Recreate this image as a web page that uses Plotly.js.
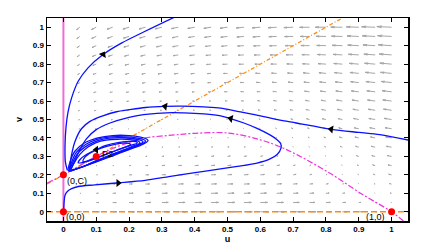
<!DOCTYPE html>
<html><head><meta charset="utf-8">
<script src="https://cdn.plot.ly/plotly-3.0.1.min.js"></script>
<style>html,body{margin:0;padding:0;background:#fff}#chart{width:431px;height:247px}</style>
</head><body><div id="chart"></div>
<script>
// ---- axes ----
const X_TICKS = [0,0.1,0.2,0.3,0.4,0.5,0.6,0.7,0.8,0.9,1];
const X_TICK_LABELS = ['0','0.1','0.2','0.3','0.4','0.5','0.6','0.7','0.8','0.9','1'];
const Y_TICKS = [0,0.1,0.2,0.3,0.4,0.5,0.6,0.7,0.8,0.9,1];
const Y_TICK_LABELS = ['0','0.1','0.2','0.3','0.4','0.5','0.6','0.7','0.8','0.9','1'];

// ---- direction field (grid and estimated vector components, rows = v) ----
const GRID_U = [0.05,0.1,0.15,0.2,0.25,0.3,0.35,0.4,0.45,0.5,0.55,0.6,0.65,0.7,0.75,0.8,0.85,0.9,0.95,1.0];
const GRID_V = [0,0.05,0.1,0.15,0.2,0.25,0.3,0.35,0.4,0.45,0.5,0.55,0.6,0.65,0.7,0.75,0.8,0.85,0.9,0.95,1.0];
const FIELD_U = [
 [7,14,19,24,28,32,34,36,37,38,37,36,34,32,28,24,19,14,7,0],
 [6,12,16,21,24,28,30,32,33,33,33,32,30,27,24,19,15,9,3,-3],
 [4,9,13,18,21,24,26,28,29,29,28,27,25,22,19,14,10,4,-2,-7],
 [3,7,11,14,18,20,22,24,24,24,24,22,21,18,14,10,5,-1,-5,-10],
 [1,5,8,11,14,16,18,19,20,20,19,18,16,13,9,5,0,-4,-8,-13],
 [0,3,5,8,11,13,14,16,16,16,15,14,12,9,5,0,-3,-7,-11,-16],
 [-1,0,3,5,7,9,11,11,12,12,11,9,6,3,0,-3,-6,-10,-15,-20],
 [-2,-2,0,2,3,5,6,7,7,7,6,4,2,-1,-3,-6,-10,-14,-18,-23],
 [-3,-3,-2,-1,0,2,3,3,3,3,2,0,-2,-4,-6,-9,-13,-17,-21,-26],
 [-4,-5,-4,-3,-2,-2,-1,-1,-1,-1,-2,-3,-5,-7,-9,-12,-16,-20,-24,-29],
 [-5,-6,-6,-5,-5,-4,-4,-3,-3,-4,-5,-6,-8,-10,-13,-16,-19,-23,-28,-33],
 [-6,-8,-8,-8,-7,-7,-6,-6,-6,-7,-8,-9,-11,-13,-16,-19,-22,-26,-31,-36],
 [-7,-9,-10,-10,-9,-9,-9,-9,-9,-10,-11,-12,-14,-16,-19,-22,-26,-30,-34,-39],
 [-7,-11,-12,-12,-12,-12,-11,-11,-12,-13,-14,-15,-17,-19,-22,-25,-29,-33,-37,-42],
 [-8,-12,-14,-14,-14,-14,-14,-14,-15,-15,-17,-18,-20,-22,-25,-28,-32,-36,-41,-46],
 [-9,-14,-15,-16,-16,-17,-17,-17,-17,-18,-19,-21,-23,-25,-28,-31,-35,-39,-44,-49],
 [-10,-15,-17,-18,-19,-19,-19,-20,-20,-21,-22,-24,-26,-28,-31,-35,-38,-42,-47,-52],
 [-11,-17,-19,-20,-21,-22,-22,-22,-23,-24,-25,-27,-29,-31,-34,-38,-41,-46,-50,-55],
 [-12,-18,-21,-23,-23,-24,-25,-25,-26,-27,-28,-30,-32,-35,-38,-41,-45,-49,-54,-59],
 [-13,-20,-23,-25,-26,-27,-27,-28,-29,-30,-31,-33,-35,-38,-41,-44,-48,-52,-57,-62],
 [-14,-21,-25,-27,-28,-29,-30,-31,-32,-33,-34,-36,-38,-41,-44,-47,-51,-55,-60,-65]
];
const FIELD_V = [
 [0,0,0,0,0,0,0,0,0,0,0,0,0,0,0,0,0,0,0,0],
 [0,0,0,0,1,1,1,1,1,1,1,1,1,1,1,1,1,1,1,1],
 [0,1,1,1,1,1,1,1,1,2,2,2,2,2,2,2,2,3,3,3],
 [0,1,1,1,1,1,2,2,2,2,2,2,3,3,3,3,3,4,4,4],
 [0,1,1,1,1,2,2,2,2,3,3,3,3,4,4,4,4,5,5,5],
 [0,0,1,1,1,2,2,2,3,3,3,3,4,4,4,5,5,5,6,6],
 [0,0,0,1,1,2,2,2,3,3,3,4,4,5,5,5,6,6,6,7],
 [-1,0,0,0,1,1,2,2,3,3,3,4,4,5,5,6,6,7,7,7],
 [-2,-1,-1,0,1,1,2,2,3,3,4,4,5,5,6,6,7,7,8,8],
 [-2,-2,-1,-1,0,1,1,2,2,3,3,4,5,5,6,6,7,7,8,8],
 [-3,-3,-2,-1,-1,0,1,1,2,3,3,4,4,5,6,6,7,8,8,9],
 [-4,-3,-3,-2,-1,-1,0,1,1,2,3,3,4,5,6,6,7,8,8,9],
 [-5,-5,-4,-3,-2,-2,-1,0,1,2,2,3,4,5,5,6,7,8,8,9],
 [-7,-6,-5,-4,-3,-2,-2,-1,0,1,2,2,3,4,5,6,7,7,8,9],
 [-8,-7,-6,-5,-4,-4,-3,-2,-1,0,1,2,3,4,4,5,6,7,8,9],
 [-9,-8,-8,-7,-6,-5,-4,-3,-2,-1,0,1,2,3,4,5,6,7,8,8],
 [-11,-10,-9,-8,-7,-6,-5,-4,-3,-2,-1,0,1,2,3,4,5,6,7,8],
 [-13,-12,-11,-10,-9,-7,-6,-5,-4,-3,-2,-1,0,1,2,3,4,5,6,7],
 [-15,-14,-12,-11,-10,-9,-8,-7,-6,-5,-3,-2,-1,0,1,2,3,5,6,7],
 [-17,-15,-14,-13,-12,-11,-10,-8,-7,-6,-5,-4,-2,-1,0,1,2,4,5,6],
 [-19,-18,-16,-15,-14,-13,-11,-10,-9,-8,-6,-5,-4,-3,-1,0,1,3,4,5]
];

// ---- nullclines ----
const U_NULL_AXIS_U = [0,0];
const U_NULL_AXIS_V = [-0.05,1.05];
const V_NULL_AXIS_U = [-0.05,1.05];
const V_NULL_AXIS_V = [0,0];
const V_NULL_LINE_U = [-0.05,0.85];
const V_NULL_LINE_V = [0.15,1.05];
const U_NULL_CURVE_U = [-0.05,0,0.05,0.1,0.15,0.2,0.25,0.33,0.4,0.5,0.6,0.663,0.714,0.811,0.913,1,1.036];
const U_NULL_CURVE_V = [0.155,0.2,0.25,0.3,0.343,0.375,0.4,0.415,0.425,0.427,0.39,0.35,0.307,0.21,0.092,0,-0.05];

// ---- trajectories ----
const TRAJ_TOPLEFT_U = [0.345,0.249,0.178,0.121,0.075,0.045,0.025,0.014,0.008,0.005,0.006,0.012];
const TRAJ_TOPLEFT_V = [1.06,0.978,0.915,0.852,0.78,0.707,0.617,0.54,0.46,0.36,0.27,0.225];
const TRAJ_RIGHT_U = [1.06,0.964,0.9,0.816,0.709,0.653,0.6,0.53,0.479,0.428,0.36,0.31,0.25,0.2,0.162,0.12,0.081,0.055,0.035,0.025,0.02,0.018];
const TRAJ_RIGHT_V = [0.385,0.418,0.43,0.447,0.481,0.499,0.52,0.544,0.562,0.568,0.572,0.571,0.565,0.553,0.542,0.52,0.49,0.45,0.38,0.31,0.25,0.222];
const TRAJ_BOTTOM_U = [0.001,0.002,0.005,0.012,0.025,0.045,0.096,0.162,0.249,0.326,0.428,0.53,0.59,0.628,0.652,0.663,0.662,0.65,0.628,0.59,0.55,0.504,0.479,0.428,0.367,0.33,0.244,0.2,0.142,0.1,0.07,0.05,0.033,0.022];
const TRAJ_BOTTOM_V = [0.005,0.05,0.09,0.11,0.125,0.137,0.146,0.156,0.17,0.192,0.219,0.246,0.264,0.285,0.312,0.345,0.37,0.392,0.418,0.452,0.481,0.508,0.52,0.53,0.536,0.537,0.526,0.512,0.481,0.445,0.395,0.335,0.27,0.225];
const LOOP_A_U = [0.015,0.03,0.06,0.1,0.15,0.2,0.235,0.252,0.258,0.252,0.235,0.2,0.15,0.105,0.065,0.035,0.02,0.015];
const LOOP_A_V = [0.222,0.228,0.245,0.27,0.303,0.337,0.36,0.375,0.386,0.396,0.405,0.413,0.413,0.401,0.374,0.328,0.27,0.222];
const LOOP_B_U = [0.018,0.035,0.065,0.1,0.15,0.2,0.232,0.247,0.25,0.242,0.222,0.19,0.145,0.105,0.07,0.04,0.025,0.018];
const LOOP_B_V = [0.222,0.23,0.248,0.272,0.306,0.34,0.362,0.375,0.384,0.393,0.401,0.406,0.406,0.394,0.367,0.323,0.268,0.222];
const LOOP_C_U = [0.02,0.04,0.07,0.1,0.15,0.2,0.228,0.241,0.242,0.232,0.21,0.18,0.14,0.105,0.075,0.045,0.028,0.02];
const LOOP_C_V = [0.222,0.232,0.252,0.275,0.31,0.343,0.363,0.374,0.382,0.39,0.397,0.401,0.399,0.386,0.361,0.319,0.266,0.222];
const LOOP_D_U = [0.022,0.045,0.075,0.1,0.15,0.2,0.222,0.233,0.231,0.219,0.195,0.165,0.13,0.1,0.075,0.05,0.032,0.022];
const LOOP_D_V = [0.223,0.235,0.256,0.277,0.313,0.346,0.363,0.372,0.38,0.387,0.392,0.393,0.388,0.375,0.351,0.311,0.262,0.223];
const LOOP_E_U = [0.045,0.07,0.1,0.14,0.18,0.21,0.225,0.222,0.205,0.17,0.13,0.1,0.07,0.05,0.045];
const LOOP_E_V = [0.265,0.272,0.29,0.318,0.345,0.362,0.372,0.38,0.382,0.376,0.36,0.337,0.31,0.282,0.265];
const LOOP_F_U = [0.06,0.09,0.12,0.16,0.19,0.205,0.2,0.18,0.15,0.115,0.085,0.065,0.06];
const LOOP_F_V = [0.272,0.285,0.305,0.332,0.352,0.364,0.371,0.372,0.363,0.345,0.322,0.295,0.272];

// ---- direction arrowheads on trajectories ----
const HEAD_U = [0.121,0.31,0.167,0.51,0.816,0.1];
const HEAD_V = [0.852,0.571,0.156,0.505,0.447,0.336];
const HEAD_ANGLE = [30,-80,90,-77,-81,-90];

// ---- equilibria ----
const EQ_U = [0,0,0.1,1];
const EQ_V = [0,0.2,0.3,0];
const EQ_LABELS = ['(0,0)','(0,C)','P2','(1,0)'];

// ---- build quiver segments (MATLAB-style heads) ----
const K = 0.00069, ALPHA = 0.33, BETA = 0.33;
const qx = [], qy = [];
GRID_V.forEach((v,i) => GRID_U.forEach((u,j) => {
  const du = K*FIELD_U[i][j], dv = K*FIELD_V[i][j];
  if (du === 0 && dv === 0) return;
  const tx = u+du, ty = v+dv;
  qx.push(u, tx, null, tx-ALPHA*(du+BETA*dv), tx, tx-ALPHA*(du-BETA*dv), null);
  qy.push(v, ty, null, ty-ALPHA*(dv-BETA*du), ty, ty-ALPHA*(dv+BETA*du), null);
}));

const BLUE = '#0a10ff';
const ORANGE = '#ff8a12';
const line = (x,y,color,width,dash,shape) => ({type:'scatter',mode:'lines',x,y,line:{color,width,dash:dash||'solid',shape:shape||'linear'},hoverinfo:'skip'});
const traces = [
  line(qx,qy,'#a6a6a6',1),
  line(U_NULL_AXIS_U,U_NULL_AXIS_V,'#f26bd6',2),
  line(V_NULL_AXIS_U,V_NULL_AXIS_V,ORANGE,1.4,'6px,3px'),
  line(V_NULL_LINE_U,V_NULL_LINE_V,ORANGE,1.2,'4px,2px,1px,2px'),
  line(U_NULL_CURVE_U,U_NULL_CURVE_V,'#ee33dd',1.2,'6px,2px,2px,2px','spline'),
];
[[TRAJ_TOPLEFT_U,TRAJ_TOPLEFT_V],[TRAJ_RIGHT_U,TRAJ_RIGHT_V],[TRAJ_BOTTOM_U,TRAJ_BOTTOM_V],
 [LOOP_A_U,LOOP_A_V],[LOOP_B_U,LOOP_B_V],[LOOP_C_U,LOOP_C_V],[LOOP_D_U,LOOP_D_V],[LOOP_E_U,LOOP_E_V],[LOOP_F_U,LOOP_F_V]
].forEach(([x,y]) => traces.push({type:'scatter',mode:'lines',x,y,line:{color:BLUE,width:1.3,shape:'spline',smoothing:0.9},hoverinfo:'skip'}));
traces.push({type:'scatter',mode:'markers',x:HEAD_U,y:HEAD_V,marker:{symbol:'triangle-up',size:7,color:'#000',angle:HEAD_ANGLE},hoverinfo:'skip'});
traces.push({type:'scatter',mode:'markers',x:EQ_U,y:EQ_V,marker:{size:7,color:'#ff0000'},cliponaxis:false,hoverinfo:'skip'});

const LABEL_POS = [
  {x:0.003,y:-0.03,xanchor:'left'},
  {x:0.005,y:0.165,xanchor:'left'},
  {x:0.11,y:0.315,xanchor:'left'},
  {x:0.985,y:-0.03,xanchor:'right'}
];
const annotations = EQ_LABELS.map((t,i) => ({text:t,x:LABEL_POS[i].x,y:LABEL_POS[i].y,xref:'x',yref:'y',xanchor:LABEL_POS[i].xanchor,yanchor:'middle',showarrow:false,font:{family:'Liberation Sans, Arial, sans-serif',size:9,color:'#000'}}));

const tickfont = {family:'Liberation Sans, Arial, sans-serif',size:8,color:'#000',weight:'bold'};
const axisCommon = {range:[-0.05,1.05],ticks:'inside',ticklen:4,tickwidth:1,tickcolor:'#000',showline:true,mirror:'ticks',linecolor:'#000',linewidth:1.5,showgrid:false,zeroline:false,tickfont,fixedrange:true};
const layout = {
  width:431,height:247,margin:{l:47,r:23,t:18,b:26},
  paper_bgcolor:'#fff',plot_bgcolor:'#fff',showlegend:false,
  xaxis:Object.assign({},axisCommon,{tickvals:X_TICKS,ticktext:X_TICK_LABELS,title:{text:'u',font:{family:'Liberation Sans, Arial, sans-serif',size:9,color:'#000',weight:'bold'},standoff:2}}),
  yaxis:Object.assign({},axisCommon,{tickvals:Y_TICKS,ticktext:Y_TICK_LABELS,title:{text:'v',font:{family:'Liberation Sans, Arial, sans-serif',size:9,color:'#000',weight:'bold'},standoff:8}}),
  annotations
};
Plotly.newPlot('chart',traces,layout,{displayModeBar:false,staticPlot:true});
</script></body></html>
